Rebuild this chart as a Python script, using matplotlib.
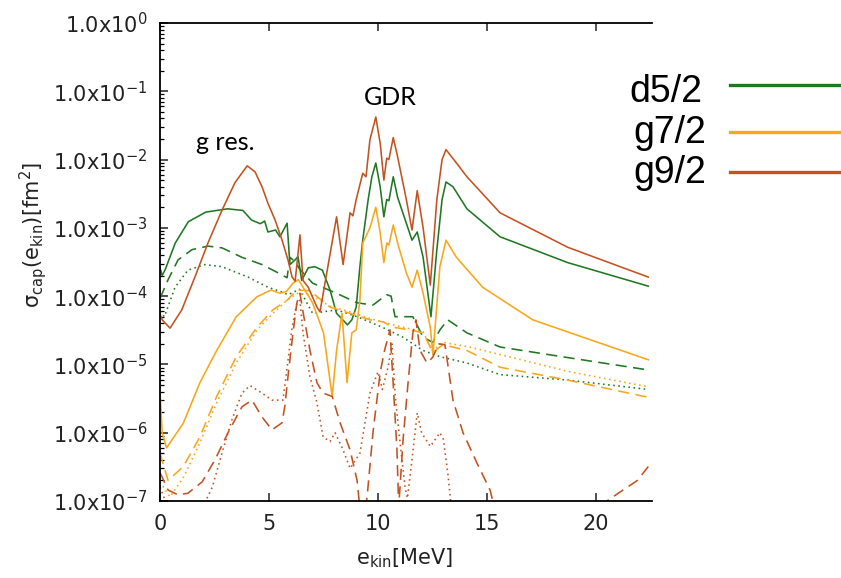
import numpy as np
import matplotlib
matplotlib.use("Agg")
import matplotlib.pyplot as plt
from matplotlib.lines import Line2D
from matplotlib.ticker import FixedLocator, FixedFormatter, LogLocator, NullFormatter

# colours
c_d52 = "#207822"
c_g72 = "#f9a61a"
c_g92 = "#c4521f"

# ---- d5/2 ----
x_d52_solid = [0, 0.1, 0.25, 0.7, 1.3, 2.1, 3.1, 3.8, 4.2, 4.6, 4.8, 4.95, 5.3, 5.5, 5.83, 5.96,
               6.2, 6.33, 6.5, 6.8, 7.1, 7.45, 7.8, 8.1, 8.6, 8.8, 9.0, 9.17, 9.3, 9.55, 9.72, 9.9,
               10.1, 10.27, 10.4, 10.5, 10.7, 10.9, 11.3, 11.56, 11.8, 12.07, 12.43, 12.7, 12.94,
               13.12, 13.44, 14.08, 15.6, 18.7, 22.4]
y_d52_solid = [2.6e-4, 2.0e-4, 2.5e-4, 6.0e-4, 1.23e-3, 1.7e-3, 1.9e-3, 1.8e-3, 1.3e-3, 1.15e-3,
               1.26e-3, 8.7e-4, 9.3e-4, 7.4e-4, 1.17e-3, 2.9e-4, 3.4e-4, 3.8e-4, 1.7e-4, 2.6e-4,
               2.7e-4, 2.4e-4, 1.23e-4, 5.6e-5, 3.8e-5, 4.5e-5, 6.9e-5, 2.7e-4, 6.6e-4, 2.6e-3,
               5.6e-3, 8.9e-3, 4.0e-3, 1.45e-3, 2.6e-3, 2.5e-3, 5.6e-3, 2.8e-3, 1.17e-3, 6.6e-4,
               8.7e-4, 3.7e-4, 5.0e-5, 4.8e-4, 2.6e-3, 4.7e-3, 4.0e-3, 1.9e-3, 7.4e-4, 3.1e-4, 1.4e-4]

x_d52_dash = [0, 0.37, 0.83, 1.47, 2.2, 2.84, 3.76, 4.68, 5.41, 5.83, 5.96, 6.2, 6.4, 7.0, 8.1,
              9.04, 9.77, 10.1, 10.4, 10.6, 10.78, 11.6, 12.07, 12.52, 12.84, 13.2, 14.08, 15.6,
              18.7, 22.4]
y_d52_dash = [9.3e-5, 1.74e-4, 3.4e-4, 4.8e-4, 5.4e-4, 5.1e-4, 3.7e-4, 2.9e-4, 2.2e-4, 1.86e-4,
              3.7e-4, 3.2e-4, 2.5e-4, 1.55e-4, 1.1e-4, 8.0e-5, 7.4e-5, 8.9e-5, 1.05e-4, 1.0e-4,
              5.0e-5, 5.0e-5, 2.5e-5, 2.1e-5, 3.2e-5, 4.5e-5, 2.9e-5, 1.8e-5, 1.26e-5, 8.3e-6]

x_d52_dot = [0, 0.2, 0.69, 1.28, 2.06, 2.84, 4.04, 4.95, 5.6, 5.87, 6.4, 7.0, 8.1, 9.04, 10.2,
             11.15, 12.07, 12.84, 14.08, 15.6, 18.7, 22.4]
y_d52_dot = [6.0e-5, 5.0e-5, 1.35e-4, 2.4e-4, 2.9e-4, 2.7e-4, 1.9e-4, 1.35e-4, 1.15e-4, 1.05e-4,
             1.26e-4, 5.6e-5, 6.3e-5, 5.0e-5, 3.5e-5, 2.5e-5, 1.6e-5, 1.3e-5, 1.05e-5, 7.1e-6,
             5.9e-6, 4.3e-6]

# ---- g7/2 ----
x_g72_solid = [0, 0.1, 0.3, 1.07, 1.83, 2.6, 3.5, 4.45, 5.1, 5.5, 5.8, 6.1, 6.35, 6.56, 7.0, 7.5,
               7.9, 8.1, 8.35, 8.58, 8.8, 9.0, 9.17, 9.3, 9.63, 9.9, 10.1, 10.27, 10.4, 10.5, 10.7,
               10.9, 11.3, 11.56, 11.8, 12.07, 12.4, 12.52, 12.84, 13.12, 13.6, 14.8, 17.1, 22.4]
y_g72_solid = [4.0e-6, 1.0e-6, 6.0e-7, 1.38e-6, 5.4e-6, 1.6e-5, 5.0e-5, 9.8e-5, 1.23e-4, 1.1e-4,
               1.17e-4, 1.55e-4, 1.74e-4, 1.35e-4, 8.0e-5, 2.9e-5, 3.4e-6, 1.6e-5, 5.6e-5, 5.4e-6,
               2.9e-5, 3.2e-5, 8.7e-5, 6.0e-4, 1.0e-3, 2.0e-3, 8.5e-4, 3.1e-4, 6.0e-4, 5.6e-4,
               1.1e-3, 6.0e-4, 2.2e-4, 1.35e-4, 2.4e-4, 1.1e-4, 3.5e-5, 1.4e-5, 2.7e-4, 6.6e-4,
               3.7e-4, 1.35e-4, 4.5e-5, 1.17e-5]

x_g72_dash = [0, 0.37, 1.07, 1.83, 2.6, 3.5, 4.45, 5.18, 5.83, 6.28, 6.88, 7.8, 8.72, 9.63, 10.23,
              10.7, 11.47, 12.07, 12.52, 12.98, 14.08, 15.6, 18.7, 22.4]
y_g72_dash = [5.0e-7, 2.0e-7, 3.2e-7, 8.7e-7, 3.4e-6, 1.3e-5, 3.5e-5, 6.3e-5, 8.7e-5, 1.23e-4,
              1.2e-4, 6.9e-5, 5.6e-5, 4.5e-5, 4.2e-5, 3.5e-5, 3.2e-5, 2.9e-5, 1.5e-5, 1.95e-5,
              1.6e-5, 9.1e-6, 5.9e-6, 3.3e-6]

x_g72_dot = [0, 0.46, 1.07, 1.83, 2.6, 3.5, 4.45, 5.18, 5.83, 6.3, 6.9, 7.8, 8.72, 9.63, 10.7,
             11.5, 12.07, 12.5, 13.0, 14.2, 18.8, 22.4]
y_g72_dot = [1.9e-7, 1.15e-7, 2.2e-7, 7.1e-7, 2.75e-6, 1.05e-5, 3.2e-5, 5.6e-5, 8.7e-5, 1.1e-4,
             1.05e-4, 7.1e-5, 5.9e-5, 4.7e-5, 3.8e-5, 3.3e-5, 3.0e-5, 1.6e-5, 2.1e-5, 1.8e-5,
             7.8e-6, 4.7e-6]

# ---- g9/2 ----
x_g92_solid = [0, 0.1, 0.46, 1.0, 1.6, 2.2, 2.84, 3.44, 4.0, 4.36, 4.68, 4.95, 5.28, 5.6, 5.87,
               6.06, 6.2, 6.42, 6.56, 6.8, 7.2, 7.34, 7.7, 8.1, 8.4, 8.72, 8.85, 9.0, 9.3, 9.45,
               9.63, 9.9, 10.1, 10.27, 10.4, 10.5, 10.7, 10.9, 11.3, 11.56, 11.8, 12.07, 12.4,
               12.7, 12.94, 13.12, 13.6, 14.08, 15.6, 18.7, 22.4]
y_g92_solid = [5.5e-5, 4.5e-5, 3.4e-5, 6.3e-5, 1.9e-4, 6.0e-4, 1.8e-3, 4.6e-3, 8.1e-3, 6.6e-3,
               4.0e-3, 2.3e-3, 1.3e-3, 6.6e-4, 3.4e-4, 1.9e-4, 1.66e-4, 7.9e-4, 1.7e-4, 1.35e-4,
               6.9e-5, 5.9e-5, 2.7e-4, 1.45e-3, 2.9e-4, 1.66e-3, 1.5e-3, 2.6e-3, 6.3e-3, 5.6e-3,
               1.95e-2, 4.2e-2, 1.74e-2, 5.0e-3, 1.05e-2, 1.0e-2, 2.1e-2, 1.1e-2, 2.6e-3, 9.3e-4,
               3.5e-3, 1.0e-3, 1.45e-4, 2.6e-3, 1.0e-2, 1.4e-2, 8.9e-3, 5.6e-3, 1.66e-3, 5.2e-4,
               1.9e-4]

x_g92_dash = [0, 0.37, 0.83, 1.28, 1.93, 2.52, 3.12, 3.76, 4.22, 4.68, 5.14, 5.6, 5.73, 5.87, 6.1,
              6.28, 6.42, 6.6, 6.88, 7.2, 7.48, 7.9, 8.26, 8.72, 9.04, 9.2, 9.4, 9.5, 9.77, 10.1,
              10.3, 10.55, 10.7, 10.87, 10.95, 11.15, 11.38, 11.6, 11.74, 11.93, 12.25, 12.5,
              12.8, 13.07, 13.44, 13.9, 14.54, 15.14, 15.5, 17.5, 20.0, 20.5, 21.1, 21.9, 22.4]
y_g92_dash = [2.6e-7, 1.45e-7, 1.23e-7, 1.3e-7, 1.9e-7, 4.0e-7, 1.0e-6, 2.4e-6, 3.0e-6, 1.7e-6,
              1.1e-6, 1.4e-6, 2.5e-6, 6.6e-6, 2.9e-5, 8.0e-5, 1.1e-4, 5.0e-5, 1.6e-5, 5.4e-6,
              3.8e-6, 3.4e-6, 1.4e-6, 5.6e-7, 2.0e-7, 6.3e-8, 6.3e-8, 1.15e-7, 1.0e-6, 7.6e-6,
              1.6e-5, 3.2e-5, 5.0e-6, 5.6e-7, 8.0e-8, 7.9e-7, 5.4e-6, 2.9e-5, 4.5e-5, 1.6e-5,
              1.05e-5, 1.26e-5, 2.0e-5, 1.95e-5, 3.0e-6, 1.0e-6, 3.6e-7, 1.45e-7, 5.0e-8, 5.0e-9,
              5.0e-8, 1.0e-7, 1.35e-7, 2.0e-7, 3.2e-7]

x_g92_dot = [0, 0.3, 1.0, 1.8, 2.4, 2.84, 3.3, 3.76, 4.13, 4.68, 5.14, 5.64, 5.83, 6.06, 6.28,
             6.42, 6.56, 6.88, 7.2, 7.48, 7.8, 8.03, 8.4, 8.72, 9.17, 9.63, 10.0, 10.2, 10.46,
             10.64, 10.8, 11.0, 11.24, 11.35, 11.56, 11.8, 12.0, 12.4, 12.84, 13.0, 13.2, 13.4,
             13.6]
y_g92_dot = [1.6e-7, 9.0e-8, 4.0e-8, 6.3e-8, 1.6e-7, 5.0e-7, 1.55e-6, 3.8e-6, 4.9e-6, 3.8e-6,
             3.0e-6, 3.0e-6, 8.9e-6, 3.5e-5, 8.0e-5, 8.7e-5, 2.9e-5, 6.6e-6, 2.75e-6, 8.7e-7,
             7.4e-7, 1.0e-6, 5.6e-7, 3.0e-7, 5.0e-7, 3.8e-6, 7.8e-6, 4.3e-6, 9.1e-6, 2.0e-5,
             3.2e-6, 7.9e-7, 1.6e-7, 1.1e-7, 4.0e-7, 1.95e-6, 1.0e-6, 6.3e-7, 1.0e-6, 8.0e-7,
             2.6e-7, 6.3e-8, 1.6e-8]

ytick_vals = [1e-7, 1e-6, 1e-5, 1e-4, 1e-3, 1e-2, 1e-1, 1e0]
ytick_labels = ["1.0x10$^{-7}$", "1.0x10$^{-6}$", "1.0x10$^{-5}$", "1.0x10$^{-4}$",
                "1.0x10$^{-3}$", "1.0x10$^{-2}$", "1.0x10$^{-1}$", "1.0x10$^{0}$"]
xtick_vals = [0, 5, 10, 15, 20]

legend_labels = ["d5/2", "g7/2", "g9/2"]

fig = plt.figure(figsize=(8.41, 5.78), dpi=100)
ax = fig.add_axes([160 / 841, 1 - 501 / 578, 492 / 841, 478 / 578])

dash = (0, (7, 4))
dot = (0, (1, 2.2))
lw = 1.15
ax.plot(x_d52_solid, y_d52_solid, color=c_d52, lw=lw)
ax.plot(x_d52_dash, y_d52_dash, color=c_d52, lw=lw, linestyle=dash)
ax.plot(x_d52_dot, y_d52_dot, color=c_d52, lw=lw, linestyle=dot)
ax.plot(x_g72_solid, y_g72_solid, color=c_g72, lw=lw)
ax.plot(x_g72_dash, y_g72_dash, color=c_g72, lw=lw, linestyle=dash)
ax.plot(x_g72_dot, y_g72_dot, color=c_g72, lw=lw, linestyle=dot)
ax.plot(x_g92_solid, y_g92_solid, color=c_g92, lw=lw)
ax.plot(x_g92_dash, y_g92_dash, color=c_g92, lw=lw, linestyle=dash)
ax.plot(x_g92_dot, y_g92_dot, color=c_g92, lw=lw, linestyle=dot)

ax.set_yscale("log")
ax.set_ylim(1e-7, 1e0)
ax.set_xlim(0, 22.57)

ax.yaxis.set_major_locator(FixedLocator(ytick_vals))
ax.yaxis.set_major_formatter(FixedFormatter(ytick_labels))
ax.yaxis.set_minor_locator(LogLocator(base=10, subs=np.arange(2, 10)))
ax.yaxis.set_minor_formatter(NullFormatter())
ax.set_xticks(xtick_vals)

ax.spines["right"].set_visible(False)
for s in ["left", "bottom", "top"]:
    ax.spines[s].set_linewidth(1.3)
ax.tick_params(axis="both", which="major", direction="in", length=6, width=1.1,
               labelsize=15, colors="#222222", top=True, right=False)
ax.tick_params(axis="y", which="major", pad=9)
ax.tick_params(axis="x", which="major", pad=9)
ax.tick_params(axis="y", which="minor", direction="in", length=3, width=0.9, right=False)

ax.set_ylabel("σ$_{\\rm cap}$(e$_{\\rm kin}$)[fm$^2$]", fontsize=15, color="#222222")
ax.yaxis.set_label_coords(-0.225, 0.556)
ax.set_xlabel("e$_{\\rm kin}$[MeV]", fontsize=15, color="#222222")
ax.xaxis.set_label_coords(0.498, -0.095)

ax.text(10.55, 8.0e-2, "GDR", fontsize=18, family="Lato", ha="center", va="center")
ax.text(2.98, 1.75e-2, "g res.", fontsize=18, family="Lato", ha="center", va="center")

# legend drawn beside the plot
leg_colors = [c_d52, c_g72, c_g92]
leg_text_x = [702, 706, 706]
leg_base_y = [102, 143, 183]
leg_line_y = [85, 132, 172]
for lab, col, tx, by, ly in zip(legend_labels, leg_colors, leg_text_x, leg_base_y, leg_line_y):
    fig.text(tx / 841, 1 - by / 578, lab, fontsize=27, family="Liberation Sans",
             ha="right", va="baseline")
    fig.add_artist(Line2D([730 / 841, 1.0], [1 - ly / 578, 1 - ly / 578], color=col, lw=2.4,
                          transform=fig.transFigure))

fig.savefig("out.png", dpi=100)
